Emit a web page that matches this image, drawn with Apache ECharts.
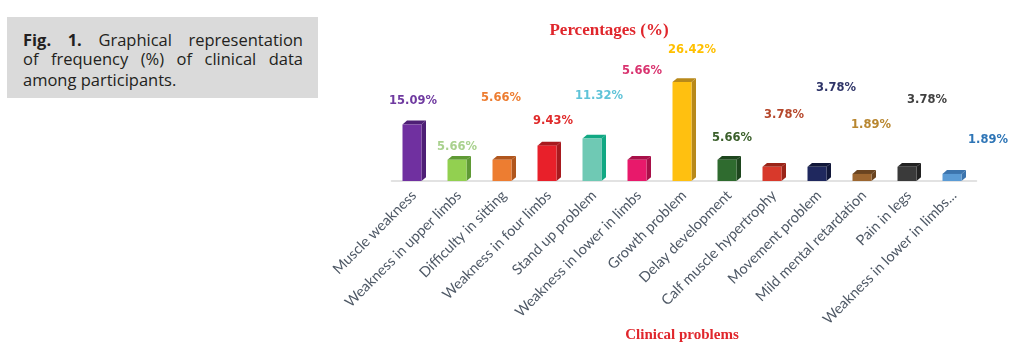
<!DOCTYPE html>
<html>
<head>
<meta charset="utf-8">
<script src="https://cdn.jsdelivr.net/npm/echarts@6/dist/echarts.min.js"></script>
<style>
html,body{margin:0;padding:0;background:#fff;}
#chart{position:absolute;left:0;top:0;width:1017px;height:360px;}
#caption{position:absolute;left:7px;top:17px;width:311px;height:81px;background:#dadada;font-family:"Open Sans",sans-serif;font-size:16.5px;color:#231f20;}
#caption div{position:absolute;left:16px;width:280px;white-space:nowrap;line-height:20px;}
#caption .j{text-align:justify;text-align-last:justify;white-space:normal;}
</style>
</head>
<body>
<div id="chart"></div>
<div id="caption">
  <div class="j" style="top:13px"><b>Fig. 1.</b> Graphical representation</div>
  <div class="j" style="top:32px">of frequency (%) of clinical data</div>
  <div style="top:53px">among participants.</div>
</div>
<script>
var categories = ["Muscle weakness","Weakness in upper limbs","Difficulty in sitting","Weakness in four limbs","Stand up problem","Weakness in lower in limbs","Growth problem","Delay development","Calf muscle hypertrophy","Movement problem","Mild mental retardation","Pain in legs","Weakness in lower in limbs..."];
var percentages = [15.09,5.66,5.66,9.43,11.32,5.66,26.42,5.66,3.78,3.78,1.89,3.78,1.89];

// styling
var barColors = ["#7030a0","#92d050","#ed7d31","#e8202a","#6fc9b4","#e8196b","#ffc010","#2f6b2f","#d8392b","#1f285e","#9c6630","#3a3a3a","#5b9bd5"];
var sideColors = ["#4e1f75","#5f9a35","#b0561d","#a81a1f","#11a883","#a81049","#b8891a","#1e461e","#9a2418","#111739","#6a4420","#222222","#3c74ad"];
var labelColors = ["#6f3aa0","#a9d18e","#ed7d31","#e02b2b","#5fc3d8","#d9336f","#ffc000","#3a5f2a","#b5472b","#2e3468","#b8862f","#404040","#2e75b6"];
var labelDx = [-1,-2,-3,4,5,3,8,3,10,17,7,18,34];
var labelLift = [23,13,62,25,43,89,32,22,52,79,49,67,34];

var chart = echarts.init(document.getElementById('chart'), null, {renderer:'canvas'});
chart.setOption({
  animation:false,
  backgroundColor:'#fff',
  title:[
    {text:'Percentages (%)', left:604, top:17, textAlign:'center',
     textStyle:{fontFamily:'Liberation Serif', fontWeight:'bold', fontSize:17, color:'#e0262c'}},
    {text:'Clinical problems', left:677, top:323, textAlign:'center',
     textStyle:{fontFamily:'Liberation Serif', fontWeight:'bold', fontSize:15, color:'#e0262c'}}
  ],
  grid:{left:391.5, right:40.5, top:68.5, bottom:179},
  xAxis:{type:'category', data:categories, offset:2,
    axisLine:{show:true, lineStyle:{color:'#d9d9d9', width:1.5}},
    axisTick:{show:false},
    axisLabel:{rotate:45, interval:0, margin:10, color:'#4f5966', fontFamily:'Lato', fontSize:14.5}},
  yAxis:{type:'value', min:0, max:30, show:false, splitLine:{show:false}},
  series:[{
    type:'custom',
    data: percentages.map(function(v,i){return [i,v];}),
    renderItem:function(params, api){
      var i = params.dataIndex;
      var v = api.value(1);
      var base = api.coord([i,0]);
      var top = api.coord([i,v]);
      var cx = base[0];
      var w = 19, dx = 4.5, dy = 3.8;
      var x0 = cx - 11.5;
      var y0 = top[1], y1 = base[1];
      return {type:'group', children:[
        {type:'polygon', shape:{points:[[x0+w,y0],[x0+w+dx,y0-dy],[x0+w+dx,y1-dy],[x0+w,y1]]}, style:{fill:sideColors[i]}},
        {type:'polygon', shape:{points:[[x0,y0],[x0+dx,y0-dy],[x0+w+dx,y0-dy],[x0+w,y0]]}, style:{fill:sideColors[i]}},
        {type:'rect', shape:{x:x0, y:y0, width:w, height:y1-y0}, style:{fill:barColors[i]}},
        {type:'text', style:{text:v.toFixed(2)+'%', x:cx+labelDx[i], y:y0-labelLift[i], align:'center', verticalAlign:'middle',
          fill:labelColors[i], font:'bold 11.5px "DejaVu Sans"'}}
      ]};
    }
  }]
});
</script>
</body>
</html>
